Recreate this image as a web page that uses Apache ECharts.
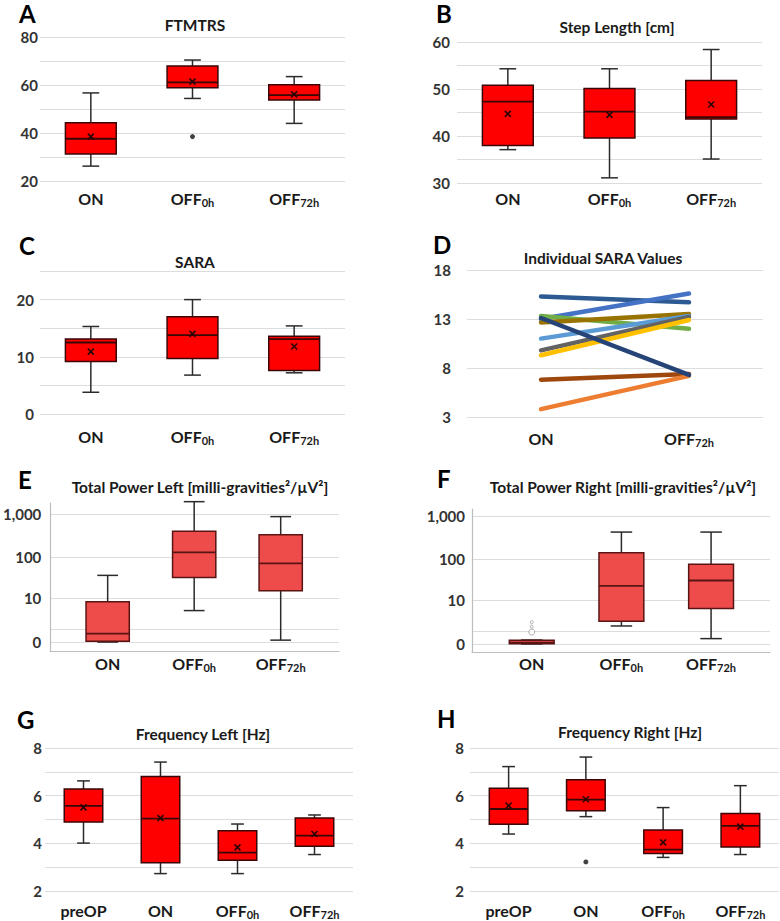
<!DOCTYPE html>
<html><head><meta charset="utf-8">
<script src="https://cdn.jsdelivr.net/npm/echarts@6/dist/echarts.min.js"></script>
<style>html,body{margin:0;padding:0;background:#fff}#c{width:780px;height:921px}</style>
</head><body><div id="c"></div>
<script>
// ---------- DATA ----------
// Box data: [min, q1, median, q3, max]
const aCats = ['ON', 'OFF_0h', 'OFF_72h'];
const aBox = [[26.2, 31.3, 37.6, 44.3, 56.7], [54.4, 58.9, 61.1, 67.9, 70.4], [44.0, 53.8, 55.8, 60.1, 63.5]];
const aMean = [38.5, 61.4, 56.1];
const aOut = [[1, 38.5]];
const aTicks = [20, 40, 60, 80];

const bCats = ['ON', 'OFF_0h', 'OFF_72h'];
const bBox = [[37.1, 38.0, 47.3, 50.8, 54.3], [31.1, 39.6, 45.2, 50.1, 54.3], [35.1, 43.6, 44.0, 51.8, 58.4]];
const bMean = [44.7, 44.5, 46.7];
const bTicks = [30, 40, 50, 60];

const cCats = ['ON', 'OFF_0h', 'OFF_72h'];
const cBox = [[3.8, 9.2, 12.5, 13.1, 15.3], [6.8, 9.7, 13.8, 17.0, 20.0], [7.2, 7.6, 13.1, 13.6, 15.4]];
const cMean = [10.9, 14.0, 11.8];
const cTicks = [0, 10, 20];

const dCats = ['ON', 'OFF_72h'];
const dOn = [15.3, 13.0, 13.3, 12.65, 11.0, 9.8, 9.3, 6.8, 3.8, 13.1];
const dOff72 = [14.7, 15.6, 12.0, 13.5, 13.3, 13.2, 12.9, 7.4, 7.2, 7.3];
const dTicks = [3, 8, 13, 18];

const eCats = ['ON', 'OFF_0h', 'OFF_72h'];
const eBox = [[0, 0.04, 0.58, 7.9, 36], [4.5, 32, 128, 400, 2000], [0.11, 15.2, 70, 335, 890]];
const eTicks = [0, 1, 10, 100, 1000];
const eTickText = ['0', '1', '10', '100', '1,000'];

const fCats = ['ON', 'OFF_0h', 'OFF_72h'];
const fBox = [[0.02, 0.03, 0.1, 0.24, 0.26], [1.69, 2.47, 22.3, 138, 425], [0.36, 5.9, 30.3, 74, 425]];
const fOut = [[0, 0.94], [0, 1.6], [0, 2.3]];
const fTicks = [0, 1, 10, 100, 1000];
const fTickText = ['0', '1', '10', '100', '1,000'];

const gCats = ['preOP', 'ON', 'OFF_0h', 'OFF_72h'];
const gBox = [[4.01, 4.9, 5.57, 6.28, 6.62], [2.73, 3.19, 5.04, 6.8, 7.41], [2.73, 3.29, 3.61, 4.53, 4.81], [3.53, 3.88, 4.32, 5.06, 5.19]];
const gMean = [5.51, 5.06, 3.83, 4.39];
const gTicks = [2, 4, 6, 8];

const hCats = ['preOP', 'ON', 'OFF_0h', 'OFF_72h'];
const hBox = [[4.39, 4.8, 5.44, 6.31, 7.22], [5.12, 5.37, 5.83, 6.67, 7.62], [3.41, 3.57, 3.74, 4.56, 5.5], [3.53, 3.85, 4.73, 5.25, 6.42]];
const hMean = [5.58, 5.85, 4.04, 4.70];
const hOut = [[1, 3.22]];
const hTicks = [2, 4, 6, 8];

// ---------- STYLE ----------
const FONT = 'Lato';
const dColors = ['#2E5A94', '#4472C4', '#70AD47', '#997300', '#5B9BD5', '#636363', '#FFC000', '#9E480E', '#ED7D31', '#264478'];
const lg = v => Math.log10(v + 1);

const rich = {
  m: { fontSize: 16, fontWeight: 'bold', fontFamily: FONT, color: '#1a1a1a', lineHeight: 20, verticalAlign: 'middle' },
  s: { fontSize: 11, fontWeight: 'bold', fontFamily: FONT, color: '#1a1a1a', lineHeight: 11, verticalAlign: 'bottom' }
};
function catFmt(c) {
  if (c == null) return '';
  const p = String(c).split('_');
  return p.length > 1 ? '{m|' + p[0] + '}{s|' + p[1] + '}' : '{m|' + p[0] + '}';
}

function boxRender(o) {
  return function (params, api) {
    const x = api.value(0);
    const lo = api.coord([x, api.value(1)]);
    const q1 = api.coord([x, api.value(2)]);
    const md = api.coord([x, api.value(3)]);
    const q3 = api.coord([x, api.value(4)]);
    const hi = api.coord([x, api.value(5)]);
    const mean = api.value(6);
    const band = api.size([1, 0])[0];
    const bw = band * o.box;
    const cw = bw * o.cap;
    const cx = lo[0];
    const ls = { stroke: o.line, lineWidth: 1.5 };
    const ch = [
      { type: 'line', shape: { x1: cx, y1: hi[1], x2: cx, y2: q3[1] }, style: ls },
      { type: 'line', shape: { x1: cx, y1: q1[1], x2: cx, y2: lo[1] }, style: ls },
      { type: 'line', shape: { x1: cx - cw / 2, y1: hi[1], x2: cx + cw / 2, y2: hi[1] }, style: ls },
      { type: 'line', shape: { x1: cx - cw / 2, y1: lo[1], x2: cx + cw / 2, y2: lo[1] }, style: ls },
      { type: 'rect', shape: { x: cx - bw / 2, y: q3[1], width: bw, height: Math.max(q1[1] - q3[1], 0.5) }, style: { fill: o.fill, stroke: o.border, lineWidth: 1.5 } },
      { type: 'line', shape: { x1: cx - bw / 2, y1: md[1], x2: cx + bw / 2, y2: md[1] }, style: { stroke: o.border, lineWidth: 1.8 } }
    ];
    if (mean != null && !isNaN(mean)) {
      const m = api.coord([x, mean]);
      const s = 3;
      const ms = { stroke: '#2a0505', lineWidth: 1.6 };
      ch.push({ type: 'line', shape: { x1: m[0] - s, y1: m[1] - s, x2: m[0] + s, y2: m[1] + s }, style: ms });
      ch.push({ type: 'line', shape: { x1: m[0] - s, y1: m[1] + s, x2: m[0] + s, y2: m[1] - s }, style: ms });
    }
    return { type: 'group', children: ch };
  };
}

const grids = [
  { left: 40, top: 37, width: 305, height: 144 },
  { left: 457, top: 42, width: 305, height: 141 },
  { left: 40, top: 271, width: 305, height: 143 },
  { left: 467, top: 270, width: 296, height: 147 },
  { left: 42, top: 503, width: 297, height: 148 },
  { left: 472, top: 509, width: 298, height: 143 },
  { left: 45, top: 748, width: 308, height: 143 },
  { left: 470, top: 748, width: 309, height: 143 }
];

const gridLine = { show: true, lineStyle: { color: '#dcdcdc', width: 1 } };
const yLab = (margin, ticks) => ({
  margin, fontSize: 15, fontWeight: 'bold', fontFamily: FONT, color: '#333',
  showMinLabel: true, showMaxLabel: true,
  formatter: v => (ticks.some(t => Math.abs(t - v) < 1e-6) ? String(v) : '')
});

function catX(i, cats, margin) {
  return { gridIndex: i, type: 'category', data: cats, axisLine: { show: false }, axisTick: { show: false }, splitLine: { show: false },
    axisLabel: { margin, formatter: catFmt, rich, interval: 0 } };
}
function valY(i, min, max, interval, ticks, margin) {
  return { gridIndex: i, type: 'value', min, max, interval, axisLine: { show: false }, axisTick: { show: false }, splitLine: gridLine, axisLabel: yLab(margin, ticks) };
}
function logX(i, cats, min, max, margin) {
  return { gridIndex: i, type: 'value', min, max, axisLine: { show: true, onZero: false, lineStyle: { color: '#bdbdbd', width: 1.2 } }, axisTick: { show: false }, splitLine: { show: false },
    axisLabel: { margin, customValues: cats.map((c, k) => k), formatter: v => catFmt(cats[Math.round(v)]), rich } };
}
function logY(i, min, max, ticks, texts, margin) {
  const cv = ticks.map(lg);
  return { gridIndex: i, type: 'value', min, max, axisLine: { show: true, onZero: false, lineStyle: { color: '#bdbdbd', width: 1.2 } },
    axisTick: { show: false, customValues: cv }, splitLine: gridLine,
    axisLabel: { margin, customValues: cv, fontSize: 15, fontWeight: 'bold', fontFamily: FONT, color: '#333', showMinLabel: true, showMaxLabel: true,
      formatter: v => { let k = 0; cv.forEach((c, j) => { if (Math.abs(c - v) < Math.abs(cv[k] - v)) k = j; }); return texts[k]; } } };
}

const toRows = (box, mean) => box.map((b, k) => [k, b[0], b[1], b[2], b[3], b[4], mean ? mean[k] : NaN]);
const toLogRows = box => box.map((b, k) => [k, lg(b[0]), lg(b[1]), lg(b[2]), lg(b[3]), lg(b[4]), NaN]);

const red = { fill: '#FF0000', border: '#3a0606', line: '#2b2b2b', box: 0.5, cap: 0.33 };
const lred = { fill: '#EE4B4B', border: '#5a1414', line: '#2b2b2b', box: 0.5, cap: 0.48 };

function boxSeries(i, rows, st) {
  return { type: 'custom', xAxisIndex: i, yAxisIndex: i, renderItem: boxRender(st), data: rows,
    encode: { x: 0, y: [1, 2, 3, 4, 5] }, z: 3, silent: true };
}

const xAxes = [
  catX(0, aCats, 7), catX(1, bCats, 5), catX(2, cCats, 12), catX(3, dCats, 11),
  logX(4, eCats, -0.663, 2.674, 2), logX(5, fCats, -0.666, 2.657, 1),
  catX(6, gCats, 9), catX(7, hCats, 9)
];
const yAxes = [
  valY(0, 20, 80, 10, aTicks, 2), valY(1, 30, 60, 5, bTicks, 7), valY(2, 0, 25, 5, cTicks, 6), valY(3, 3, 18, 5, dTicks, 16),
  logY(4, -0.21, 3.27, eTicks, eTickText, 9), logY(5, -0.18, 3.17, fTicks, fTickText, 7),
  valY(6, 2, 8, 1, gTicks, 3), valY(7, 2, 8, 1, hTicks, 6)
];

const series = [
  boxSeries(0, toRows(aBox, aMean), red),
  { type: 'scatter', xAxisIndex: 0, yAxisIndex: 0, data: aOut, symbolSize: 5, itemStyle: { color: '#111' }, z: 4, silent: true },
  boxSeries(1, toRows(bBox, bMean), red),
  boxSeries(2, toRows(cBox, cMean), red),
  boxSeries(4, toLogRows(eBox), lred),
  boxSeries(5, toLogRows(fBox), lred),
  { type: 'scatter', xAxisIndex: 5, yAxisIndex: 5, data: fOut.map(p => [p[0], lg(p[1])]),
    symbolSize: (v, p) => (p.dataIndex === 0 ? 6 : 3), itemStyle: { color: '#fff', borderColor: '#9a9a9a', borderWidth: 1 }, z: 4, silent: true },
  boxSeries(6, toRows(gBox, gMean), red),
  boxSeries(7, toRows(hBox, hMean), red),
  { type: 'scatter', xAxisIndex: 7, yAxisIndex: 7, data: hOut, symbolSize: 5, itemStyle: { color: '#111' }, z: 4, silent: true }
];
dOn.forEach((v, k) => {
  series.push({ type: 'line', xAxisIndex: 3, yAxisIndex: 3, data: [v, dOff72[k]], symbol: 'none', silent: true,
    lineStyle: { color: dColors[k], width: 4.5, cap: 'round' }, z: 3 });
});

const txt = (x, y, text, size, align, color) => ({ type: 'text', x, y, silent: true,
  style: { text, fontSize: size, fontWeight: 'bold', fontFamily: FONT, fill: color, align, verticalAlign: 'middle', lineHeight: Math.round(size * 0.9) } });
const TS = 15.5, LS = 24;
const graphic = [
  txt(19, 13.5, 'A', LS, 'left', '#000'), txt(195, 25, 'FTMTRS', TS, 'center', '#1a1a1a'),
  txt(436, 13.5, 'B', LS, 'left', '#000'), txt(617, 27, 'Step Length [cm]', TS, 'center', '#1a1a1a'),
  txt(19, 245, 'C', LS, 'left', '#000'), txt(195, 262, 'SARA', TS, 'center', '#1a1a1a'),
  txt(433, 244, 'D', LS, 'left', '#000'), txt(603, 258, 'Individual SARA Values', TS, 'center', '#1a1a1a'),
  txt(18, 479, 'E', LS, 'left', '#000'), txt(200, 487, 'Total Power Left [milli-gravities²/µV²]', TS, 'center', '#1a1a1a'),
  txt(437, 478, 'F', LS, 'left', '#000'), txt(623, 487, 'Total Power Right [milli-gravities²/µV²]', TS, 'center', '#1a1a1a'),
  txt(17, 719, 'G', LS, 'left', '#000'), txt(203, 734, 'Frequency Left [Hz]', TS, 'center', '#1a1a1a'),
  txt(437, 718, 'H', LS, 'left', '#000'), txt(630, 732, 'Frequency Right [Hz]', TS, 'center', '#1a1a1a')
];

const chart = echarts.init(document.getElementById('c'), null, { renderer: 'svg' });
chart.setOption({
  animation: false,
  backgroundColor: '#fff',
  textStyle: { fontFamily: FONT },
  grid: grids,
  xAxis: xAxes,
  yAxis: yAxes,
  series,
  graphic
});
</script></body></html>
